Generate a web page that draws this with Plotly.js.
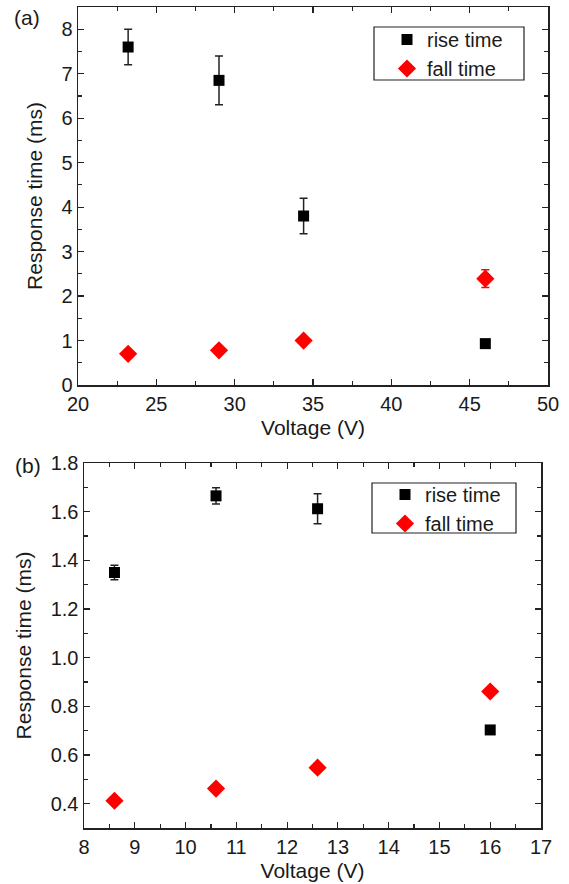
<!DOCTYPE html>
<html>
<head>
<meta charset="utf-8">
<script src="https://cdn.plot.ly/plotly-3.0.1.min.js"></script>
<style>html,body{margin:0;padding:0;background:#fff;}#chart{width:569px;height:884px;}</style>
</head>
<body>
<div id="chart"></div>
<script>
// Panel (a)
const voltageA = [23.2, 29.0, 34.4, 46.0];
const riseA = [7.6, 6.85, 3.8, 0.93];
const riseErrA = [0.4, 0.55, 0.4, 0.0];
const fallA = [0.70, 0.78, 1.0, 2.39];
const fallErrA = [0.0, 0.0, 0.0, 0.2];

// Panel (b)
const voltageB = [8.6, 10.6, 12.6, 16.0];
const riseB = [1.35, 1.665, 1.612, 0.703];
const riseErrB = [0.03, 0.033, 0.062, 0.0];
const fallB = [0.412, 0.462, 0.548, 0.861];
const fallErrB = [0.0, 0.0, 0.0, 0.0];

const seriesNames = ['rise time', 'fall time'];

const W = 569, H = 884;
const px = v => v / W;
const py = v => 1 - v / H;

const FONT = 'Liberation Sans, Arial, sans-serif';
const TXT = '#1a1a1a';
const TICK_SIZE = 20, TITLE_SIZE = 21, LEG_SIZE = 20;

function riseTrace(x, y, e, xa, ya, lg) {
  return {
    x: x, y: y, xaxis: xa, yaxis: ya, type: 'scatter', mode: 'markers',
    name: seriesNames[0], legend: lg,
    marker: {symbol: 'square', size: 11, color: '#000'},
    error_y: {type: 'data', array: e, visible: true, color: '#222', thickness: 1.5, width: 4}
  };
}
function fallTrace(x, y, e, xa, ya, lg) {
  return {
    x: x, y: y, xaxis: xa, yaxis: ya, type: 'scatter', mode: 'markers',
    name: seriesNames[1], legend: lg,
    marker: {symbol: 'diamond', size: 14, color: '#ff0000'},
    error_y: {type: 'data', array: e, visible: true, color: '#ff0000', thickness: 1.5, width: 4}
  };
}

const data = [
  riseTrace(voltageA, riseA, riseErrA, 'x', 'y', 'legend'),
  fallTrace(voltageA, fallA, fallErrA, 'x', 'y', 'legend'),
  riseTrace(voltageB, riseB, riseErrB, 'x2', 'y2', 'legend2'),
  fallTrace(voltageB, fallB, fallErrB, 'x2', 'y2', 'legend2')
];

function axisBase(extra) {
  return Object.assign({
    showline: true, linecolor: '#222', linewidth: 1.5, mirror: 'allticks',
    ticks: 'inside', ticklen: 6, tickwidth: 1.2, tickcolor: '#222',
    showgrid: false, zeroline: false, automargin: false,
    tickfont: {family: FONT, size: TICK_SIZE, color: TXT}
  }, extra);
}
function ttl(text, standoff) {
  return {text: text, standoff: standoff, font: {family: FONT, size: TITLE_SIZE, color: TXT}};
}

const layout = {
  width: W, height: H,
  margin: {l: 0, r: 0, t: 0, b: 0},
  paper_bgcolor: '#fff', plot_bgcolor: '#fff',
  showlegend: true,
  xaxis: axisBase({
    domain: [px(78), px(548)], anchor: 'y', range: [20, 50], dtick: 5, tick0: 0,
    minor: {dtick: 2.5, ticks: 'inside', ticklen: 4, tickcolor: '#222'},
    title: ttl('Voltage (V)', 7)
  }),
  yaxis: axisBase({
    domain: [py(385), py(7)], anchor: 'x', range: [0, 8.5], dtick: 1, tick0: 0,
    minor: {dtick: 0.5, ticks: 'inside', ticklen: 4, tickcolor: '#222'},
    title: ttl('Response time (ms)', 13)
  }),
  xaxis2: axisBase({
    domain: [px(84), px(541)], anchor: 'y2', range: [8, 17], dtick: 1, tick0: 0,
    minor: {dtick: 0.5, ticks: 'inside', ticklen: 4, tickcolor: '#222'},
    title: ttl('Voltage (V)', 7)
  }),
  yaxis2: axisBase({
    domain: [py(828), py(463)], anchor: 'x2', range: [0.3, 1.8], dtick: 0.2, tick0: 0, tickformat: '.1f',
    minor: {dtick: 0.1, ticks: 'inside', ticklen: 4, tickcolor: '#222'},
    title: ttl('Response time (ms)', 13)
  }),
  legend: {
    x: px(387), y: py(20), xanchor: 'left', yanchor: 'top',
    bgcolor: 'rgba(0,0,0,0)', borderwidth: 0,
    font: {family: FONT, size: LEG_SIZE, color: TXT}, itemclick: false
  },
  legend2: {
    x: px(385), y: py(475), xanchor: 'left', yanchor: 'top',
    bgcolor: 'rgba(0,0,0,0)', borderwidth: 0,
    font: {family: FONT, size: LEG_SIZE, color: TXT}, itemclick: false
  },
  shapes: [
    {type: 'rect', xref: 'paper', yref: 'paper', x0: px(374), x1: px(524), y0: py(80), y1: py(27),
     line: {color: '#222', width: 1.2}, fillcolor: 'rgba(0,0,0,0)'},
    {type: 'rect', xref: 'paper', yref: 'paper', x0: px(372), x1: px(516), y0: py(533), y1: py(483),
     line: {color: '#222', width: 1.2}, fillcolor: 'rgba(0,0,0,0)'}
  ],
  annotations: [
    {text: '(a)', xref: 'paper', yref: 'paper', x: px(12), y: py(17), xanchor: 'left', yanchor: 'middle',
     showarrow: false, font: {family: FONT, size: 21, color: TXT}},
    {text: '(b)', xref: 'paper', yref: 'paper', x: px(13), y: py(465), xanchor: 'left', yanchor: 'middle',
     showarrow: false, font: {family: FONT, size: 21, color: TXT}}
  ]
};

Plotly.newPlot('chart', data, layout, {staticPlot: true, displayModeBar: false});
</script>
</body>
</html>
